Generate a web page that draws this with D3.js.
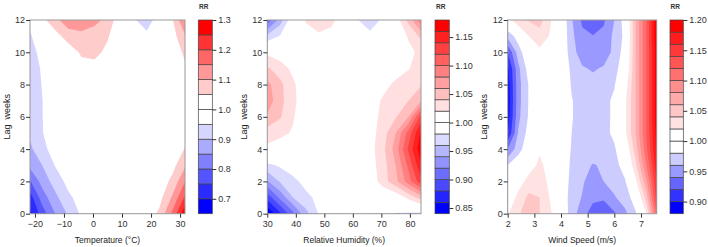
<!DOCTYPE html>
<meta charset="utf-8">
<script src="https://d3js.org/d3.v7.min.js"></script>
<style>
  body { margin: 0; background: #fff; }
  svg text { font-family: "Liberation Sans", Arial, sans-serif; }
</style>
<div id="chart"></div>
<script>
// lag axis shared by the three panels (rows of each RR grid)
const lags = [0, 1, 2, 3, 4, 5, 6, 7, 8, 9, 10, 11, 12];

// Temperature panel
const tempX = [-22, -17.5, -13, -8.5, -4, 0.5, 5, 9.5, 14, 18.5, 23, 27.5, 32];
const tempRR = [
  [0.68, 0.774, 0.851, 0.907, 0.959, 0.985, 0.995, 1.0, 1.005, 1.02, 1.061, 1.164, 1.3],
  [0.72, 0.824, 0.887, 0.94, 0.97, 0.99, 1.0, 1.0, 1.0, 1.01, 1.035, 1.11, 1.215],
  [0.79, 0.869, 0.922, 0.965, 0.985, 0.995, 1.0, 1.0, 1.0, 1.0, 1.02, 1.065, 1.155],
  [0.858, 0.9, 0.953, 0.98, 0.99, 1.0, 1.0, 1.0, 1.0, 1.0, 1.01, 1.035, 1.097],
  [0.887, 0.933, 0.975, 0.99, 0.997, 1.0, 1.0, 1.0, 1.0, 1.0, 1.0, 1.02, 1.055],
  [0.905, 0.948, 0.975, 0.99, 0.998, 1.0, 1.0, 1.0, 1.0, 1.0, 1.0, 1.01, 1.035],
  [0.91, 0.949, 0.976, 0.993, 1.0, 1.0, 1.0, 1.0, 1.0, 1.0, 1.0, 1.005, 1.02],
  [0.915, 0.949, 0.978, 0.995, 1.005, 1.01, 1.005, 1.0, 1.0, 1.0, 1.0, 1.005, 1.02],
  [0.92, 0.952, 0.98, 1.0, 1.015, 1.02, 1.01, 1.0, 1.0, 0.995, 1.0, 1.01, 1.03],
  [0.925, 0.955, 0.985, 1.01, 1.03, 1.035, 1.02, 1.005, 1.0, 0.99, 1.0, 1.015, 1.045],
  [0.93, 0.965, 0.99, 1.02, 1.058, 1.062, 1.04, 1.01, 0.99, 0.98, 0.99, 1.02, 1.063],
  [0.94, 0.99, 1.03, 1.073, 1.085, 1.075, 1.055, 1.01, 0.98, 0.96, 0.99, 1.03, 1.1],
  [0.96, 1.035, 1.084, 1.132, 1.135, 1.115, 1.087, 1.011, 0.955, 0.93, 0.971, 1.048, 1.16]
];
const tempLevels = [0.65, 0.7, 0.75, 0.8, 0.85, 0.9, 0.95, 1.0, 1.05, 1.1, 1.15, 1.2, 1.25, 1.3];
const tempTicks = [-20, -10, 0, 10, 20, 30];
const tempLegTicks = [0.7, 0.8, 0.9, 1.0, 1.1, 1.2, 1.3];

// Relative humidity panel
const humX = [30, 34.5, 39, 43.5, 48, 52.5, 57, 61.5, 66, 70.5, 75, 79.5, 84];
const humRR = [
  [0.842, 0.876, 0.914, 0.953, 0.981, 0.99, 1.0, 1.0, 1.0, 0.99, 0.979, 0.976, 0.975],
  [0.887, 0.925, 0.96, 0.975, 0.985, 0.995, 1.0, 1.0, 1.0, 1.0, 1.005, 1.025, 1.05],
  [0.938, 0.962, 0.975, 0.986, 0.993, 1.0, 1.0, 1.0, 1.005, 1.03, 1.054, 1.09, 1.135],
  [0.975, 0.983, 0.99, 0.995, 1.0, 1.0, 1.0, 1.0, 1.01, 1.031, 1.06, 1.105, 1.158],
  [1.015, 1.01, 1.0, 1.0, 1.0, 1.0, 1.0, 1.0, 1.012, 1.034, 1.069, 1.124, 1.175],
  [1.03, 1.025, 1.018, 1.005, 1.0, 1.0, 1.0, 1.0, 1.011, 1.03, 1.06, 1.108, 1.165],
  [1.057, 1.042, 1.022, 1.005, 1.0, 1.0, 1.0, 1.0, 1.01, 1.026, 1.038, 1.06, 1.13],
  [1.072, 1.046, 1.026, 1.005, 1.0, 1.0, 1.0, 1.0, 1.008, 1.023, 1.03, 1.04, 1.06],
  [1.066, 1.045, 1.024, 1.005, 1.0, 1.0, 1.0, 1.0, 1.0, 1.012, 1.025, 1.03, 1.038],
  [1.043, 1.03, 1.015, 1.0, 1.0, 1.0, 1.0, 1.0, 1.0, 1.0, 1.008, 1.019, 1.028],
  [1.015, 1.008, 1.003, 1.0, 1.005, 1.005, 1.0, 0.995, 0.995, 1.0, 1.005, 1.015, 1.025],
  [0.965, 0.982, 0.995, 1.01, 1.017, 1.012, 1.0, 0.992, 0.985, 0.99, 1.003, 1.022, 1.045],
  [0.905, 0.95, 0.997, 1.022, 1.03, 1.026, 1.005, 0.981, 0.97, 0.983, 1.008, 1.046, 1.095]
];
const humLevels = [0.84, 0.86, 0.88, 0.9, 0.92, 0.94, 0.96, 0.98, 1.0, 1.02, 1.04, 1.06, 1.08, 1.1, 1.12, 1.14, 1.16, 1.18];
const humTicks = [30, 40, 50, 60, 70, 80];
const humLegTicks = [0.85, 0.9, 0.95, 1.0, 1.05, 1.1, 1.15];

// Wind speed panel
const windX = [2, 2.4, 2.8, 3.2, 3.6, 4, 4.4, 4.8, 5.2, 5.6, 6, 6.4, 6.8, 7.2, 7.6];
const windRR = [
  [1.018, 1.038, 1.05, 1.04, 1.023, 1.0, 0.97, 0.948, 0.93, 0.926, 0.937, 0.955, 0.978, 1.02, 1.12],
  [1.0, 1.027, 1.045, 1.04, 1.018, 1.0, 0.968, 0.959, 0.945, 0.943, 0.958, 0.97, 0.99, 1.05, 1.15],
  [0.995, 1.01, 1.028, 1.035, 1.012, 1.0, 0.972, 0.962, 0.952, 0.96, 0.968, 0.978, 1.015, 1.075, 1.16],
  [0.98, 0.995, 1.01, 1.025, 1.01, 1.0, 0.975, 0.965, 0.959, 0.962, 0.972, 0.99, 1.035, 1.1, 1.175],
  [0.94, 0.972, 0.995, 1.017, 1.005, 1.0, 0.978, 0.972, 0.968, 0.97, 0.977, 1.0, 1.05, 1.115, 1.185],
  [0.9, 0.962, 0.988, 1.0, 1.0, 1.0, 0.98, 0.975, 0.972, 0.973, 0.985, 1.015, 1.06, 1.12, 1.19],
  [0.89, 0.955, 0.983, 1.0, 1.0, 1.0, 0.981, 0.973, 0.97, 0.972, 0.985, 1.015, 1.06, 1.12, 1.195],
  [0.888, 0.953, 0.982, 1.0, 1.0, 1.0, 0.981, 0.972, 0.97, 0.972, 0.985, 1.015, 1.06, 1.12, 1.195],
  [0.89, 0.953, 0.982, 1.0, 1.005, 1.0, 0.978, 0.97, 0.966, 0.97, 0.978, 1.008, 1.06, 1.12, 1.195],
  [0.895, 0.955, 0.99, 1.0, 1.01, 1.0, 0.975, 0.962, 0.958, 0.962, 0.972, 0.995, 1.06, 1.12, 1.195],
  [0.92, 0.97, 1.0, 1.015, 1.018, 1.0, 0.968, 0.95, 0.945, 0.95, 0.965, 0.99, 1.06, 1.12, 1.195],
  [0.966, 0.99, 1.02, 1.032, 1.018, 1.0, 0.965, 0.945, 0.941, 0.945, 0.965, 0.985, 1.06, 1.12, 1.2],
  [1.01, 1.037, 1.042, 1.048, 1.022, 1.0, 0.962, 0.936, 0.925, 0.937, 0.96, 0.99, 1.06, 1.12, 1.2]
];
const windLevels = [0.88, 0.9, 0.92, 0.94, 0.96, 0.98, 1.0, 1.02, 1.04, 1.06, 1.08, 1.1, 1.12, 1.14, 1.16, 1.18, 1.2];
const windTicks = [2, 3, 4, 5, 6, 7];
const windLegTicks = [0.9, 0.95, 1.0, 1.05, 1.1, 1.15, 1.2];

const width = 708, height = 247;
const plotTop = 20, plotBottom = 213.7;

const svg = d3.select("#chart").append("svg")
    .attr("width", width)
    .attr("height", height);

const panels = [
  {id: "t", xs: tempX, rr: tempRR, levels: tempLevels, ticks: tempTicks, legTicks: tempLegTicks,
   fmt: d3.format(".1f"), xDomain: [-21.7, 31.7], left: 30, right: 185, legX: 198.3, legW: 14,
   title: "Temperature (\u00B0C)"},
  {id: "h", xs: humX, rr: humRR, levels: humLevels, ticks: humTicks, legTicks: humLegTicks,
   fmt: d3.format(".2f"), xDomain: [30, 83.9], left: 267.3, right: 421, legX: 435, legW: 14.3,
   title: "Relative Humidity (%)", labelClip: 473},
  {id: "w", xs: windX, rr: windRR, levels: windLevels, ticks: windTicks, legTicks: windLegTicks,
   fmt: d3.format(".2f"), xDomain: [2, 7.59], left: 507.7, right: 656.7, legX: 670, legW: 13.3,
   title: "Wind Speed (m/s)"}
];

const clamp = (v, a, b) => Math.max(a, Math.min(b, v));

function drawPanel(p) {
  const x = d3.scaleLinear().domain(p.xDomain).range([p.left, p.right]);
  const y = d3.scaleLinear().domain([0, 12]).range([plotBottom, plotTop]);
  const nx = p.xs.length, ny = lags.length;
  const gx = d3.scaleLinear().domain([0, nx - 1]).range([p.xs[0], p.xs[nx - 1]]);
  const gy = d3.scaleLinear().domain([0, ny - 1]).range([lags[0], lags[ny - 1]]);

  // band colours: blue->white below 1, white->red above 1
  const nb = p.levels.length - 1;
  const nBelow = p.levels.filter(l => l < 1).length;
  const nAbove = nb - nBelow;
  const color = k => k < nBelow
    ? d3.interpolateRgb("blue", "white")(k / (nBelow - 1))
    : d3.interpolateRgb("white", "red")((k - nBelow) / (nAbove - 1));

  const contours = d3.contours()
      .size([nx, ny])
      .thresholds(p.levels.slice(0, -1))(p.rr.flat());

  const proj = d3.geoTransform({
    point: function(cx, cy) {
      this.stream.point(x(gx(clamp(cx - 0.5, 0, nx - 1))), y(gy(clamp(cy - 0.5, 0, ny - 1))));
    }
  });
  const path = d3.geoPath(proj);

  svg.append("clipPath").attr("id", "clip-" + p.id)
    .append("rect")
      .attr("x", p.left).attr("y", plotTop)
      .attr("width", p.right - p.left).attr("height", plotBottom - plotTop);

  const g = svg.append("g").attr("clip-path", `url(#clip-${p.id})`);
  g.append("rect")
      .attr("x", p.left).attr("y", plotTop)
      .attr("width", p.right - p.left).attr("height", plotBottom - plotTop)
      .attr("fill", "white");
  g.selectAll("path")
    .data(contours)
    .join("path")
      .attr("d", path)
      .attr("fill", (d, i) => color(i));

  // plot box
  svg.append("rect")
      .attr("x", p.left).attr("y", plotTop)
      .attr("width", p.right - p.left).attr("height", plotBottom - plotTop)
      .attr("fill", "none")
      .attr("stroke", "#9a9a9a")
      .attr("stroke-width", 1);

  // axes
  svg.append("g")
      .attr("transform", `translate(0,${plotBottom})`)
      .call(d3.axisBottom(x).tickValues(p.ticks).tickFormat(d3.format("~g")).tickSize(4).tickPadding(3))
      .call(a => a.select(".domain").remove())
      .attr("font-size", 9)
      .attr("font-family", null)
      .style("color", "#333");

  svg.append("g")
      .attr("transform", `translate(${p.left},0)`)
      .call(d3.axisLeft(y).tickValues([0, 2, 4, 6, 8, 10, 12]).tickSize(4).tickPadding(1))
      .call(a => a.select(".domain").remove())
      .attr("font-size", 9)
      .attr("font-family", null)
      .style("color", "#333");

  // axis titles
  svg.append("text")
      .attr("x", (p.left + p.right) / 2)
      .attr("y", 242.5)
      .attr("text-anchor", "middle")
      .attr("font-size", 8.5)
      .attr("fill", "#222")
      .text(p.title);

  svg.append("text")
      .attr("transform", `translate(${p.left - 20.5},${(plotTop + plotBottom) / 2}) rotate(-90)`)
      .attr("text-anchor", "middle")
      .attr("font-size", 9)
      .attr("fill", "#222")
      .style("white-space", "pre")
      .text("Lag  weeks");

  // colour key
  const ly = d3.scaleLinear()
      .domain([p.levels[0], p.levels[nb]])
      .range([plotBottom, plotTop]);

  const leg = svg.append("g");
  leg.selectAll("rect")
    .data(d3.range(nb))
    .join("rect")
      .attr("x", p.legX)
      .attr("y", k => ly(p.levels[k + 1]))
      .attr("width", p.legW)
      .attr("height", k => ly(p.levels[k]) - ly(p.levels[k + 1]))
      .attr("fill", k => color(k))
      .attr("stroke", "#444")
      .attr("stroke-width", 0.7);

  const legAxis = svg.append("g")
      .attr("transform", `translate(${p.legX + p.legW},0)`)
      .call(d3.axisRight(ly).tickValues(p.legTicks).tickFormat(p.fmt).tickSize(4).tickPadding(2))
      .call(a => a.select(".domain").remove())
      .attr("font-size", 9)
      .attr("font-family", null)
      .style("color", "#333");

  if (p.labelClip) {
    svg.append("clipPath").attr("id", "lclip-" + p.id)
      .append("rect")
        .attr("x", 0).attr("y", 0)
        .attr("width", p.labelClip).attr("height", height);
    legAxis.attr("clip-path", `url(#lclip-${p.id})`);
  }

  svg.append("text")
      .attr("x", p.legX + p.legW / 2 - 1.5)
      .attr("y", 9)
      .attr("text-anchor", "middle")
      .attr("font-size", 6.5)
      .attr("font-weight", "bold")
      .attr("fill", "#333")
      .text("RR");
}

panels.forEach(drawPanel);
</script>
